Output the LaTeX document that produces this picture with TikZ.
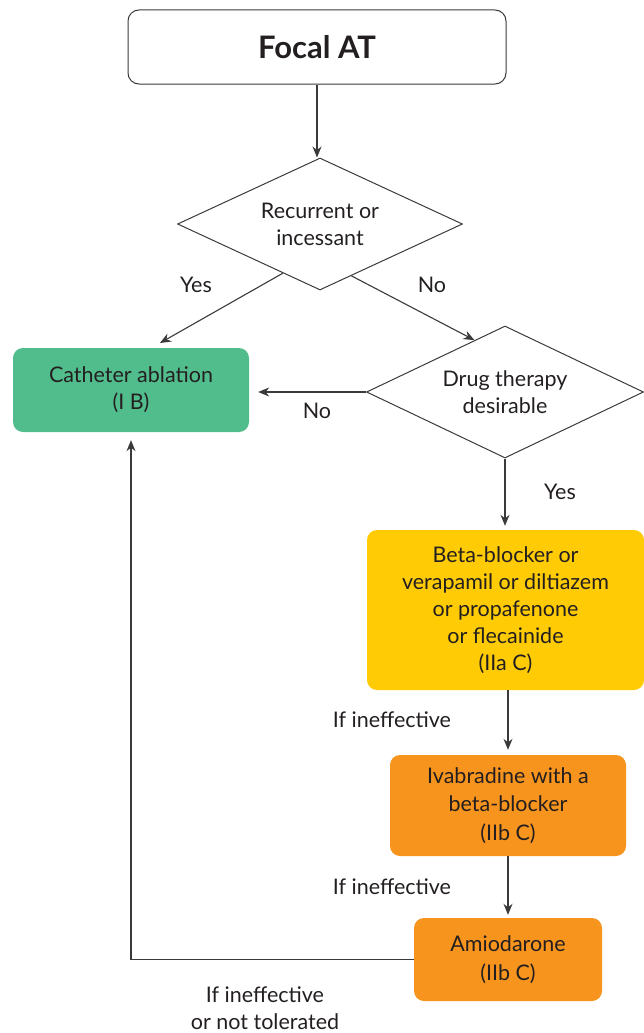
\documentclass[tikz,border=0pt]{standalone}
\usepackage{fontspec}
\setmainfont{Lato}
\usetikzlibrary{shapes.geometric,arrows.meta,calc}
\definecolor{ink}{HTML}{231F20}
\definecolor{linegray}{HTML}{3A3A3A}
\definecolor{ablgreen}{HTML}{52BD8C}
\definecolor{drugyellow}{HTML}{FFCB05}
\definecolor{drugorange}{HTML}{F7941E}
\begin{document}
\begin{tikzpicture}[x=1pt,y=-1pt,
  txt/.style={font=\fontsize{21.5}{27}\selectfont, text=ink, align=center},
  startbox/.style={draw=linegray, line width=1pt, rounded corners=11pt,
    minimum width=378pt, minimum height=74pt,
    font=\fontsize{31}{36}\selectfont\bfseries, text=ink},
  decision/.style={draw=linegray, line width=1pt, diamond, aspect=2.15,
    inner sep=0pt, txt},
  action/.style={rounded corners=10pt, txt, inner sep=0pt},
  flow/.style={draw=linegray, line width=1.1pt, -{Stealth[length=11pt,width=9pt]}},
  lbl/.style={txt, inner sep=0pt}]
\useasboundingbox (0,0) rectangle (644,1033);

% nodes
\node[startbox] (focal) at (317,47) {Focal AT};
\node[decision, minimum width=285pt, minimum height=132pt] (d1) at (320,224) {Recurrent or\\incessant};
\node[decision, minimum width=277pt, minimum height=132pt] (d2) at (505,392) {Drug therapy\\desirable};
\node[action, fill=ablgreen, minimum width=236pt, minimum height=84pt] (cath) at (131,390)
  {Catheter ablation\\(I B)};
\node[action, fill=drugyellow, minimum width=277pt, minimum height=160pt] (yel) at (505.5,610)
  {Beta-blocker or\\verapamil or diltiazem\\or propafenone\\or flecainide\\(IIa C)};
\node[action, fill=drugorange, minimum width=236pt, minimum height=101pt,
  font=\fontsize{21.5}{28.5}\selectfont] (or1) at (508,805.5)
  {Ivabradine with a\\beta-blocker\\(IIb C)};
\node[action, fill=drugorange, minimum width=188pt, minimum height=83pt,
  font=\fontsize{21.5}{28.5}\selectfont] (or2) at (508,959.5)
  {Amiodarone\\(IIb C)};

% connectors
\coordinate (yesEnd) at (160,343);
\draw[flow] (focal.south) -- (focal.south |- d1.north);
\draw[flow] ($(d1.west)!0.74!(d1.south)$) -- (yesEnd);
\draw[flow] ($(d1.south)!0.22!(d1.east)$) -- ($(d2.west)!0.78!(d2.north)$);
\draw[flow, shorten >=9pt] (d2.west) -- (d2.west -| cath.east);
\draw[flow, shorten >=4pt] (d2.south) -- (d2.south |- yel.north);
\draw[flow, shorten >=5pt] (yel.south -| or1.north) -- (or1.north);
\draw[flow, shorten >=3pt] (or1.south) -- (or2.north);
\draw[flow, shorten >=8pt] (or2.west) -| (cath.south);

% labels
\node[lbl] (lyes1) at (196,285) {Yes};
\node[lbl] (lno1) at (432,285) {No};
\node[lbl] (lno2) at (317,411) {No};
\node[lbl] (lyes2) at (560,492) {Yes};
\node[lbl] (lif1) at (392,720) {If ineffective};
\node[lbl] (lif2) at (392,887) {If ineffective};
\node[lbl] (lif3) at (265,1008) {If ineffective\\or not tolerated};
\end{tikzpicture}
\end{document}
